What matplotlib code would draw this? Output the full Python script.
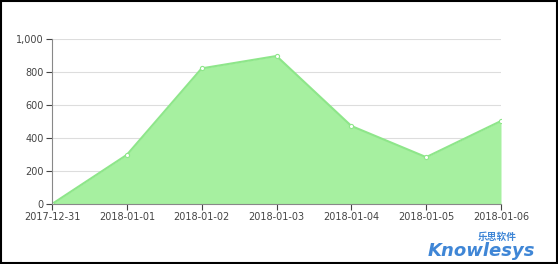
import matplotlib
matplotlib.use("agg")
import matplotlib.pyplot as plt
from matplotlib.patches import Rectangle

dates = ["2017-12-31", "2018-01-01", "2018-01-02", "2018-01-03",
         "2018-01-04", "2018-01-05", "2018-01-06"]
values = [0, 298, 822, 897, 473, 284, 503]
y_ticks = [0, 200, 400, 600, 800, 1000]
y_labels = ["0", "200", "400", "600", "800", "1,000"]

fig = plt.figure(figsize=(5.58, 2.64), dpi=100)
ax = fig.add_axes([52 / 558, 1 - 204 / 264, 449 / 558, 165 / 264])

x = list(range(len(dates)))
ax.fill_between(x, values, 0, color="#a6f0a0", lw=0)
ax.plot(x, values, color="#8ee68a", lw=1.5, marker="o", ms=3,
        mfc="white", mec="#8ee68a", mew=0.8)

ax.set_xlim(0, len(dates) - 1)
ax.set_ylim(0, 1000)
ax.set_xticks(x)
ax.set_xticklabels(dates)
ax.set_yticks(y_ticks)
ax.set_yticklabels(y_labels)
ax.yaxis.grid(True, color="#dddddd", lw=0.8)
ax.set_axisbelow(True)
ax.tick_params(labelsize=7, colors="#444444", length=4, width=0.8, pad=2)
for s in ("top", "right"):
    ax.spines[s].set_visible(False)
for s in ("left", "bottom"):
    ax.spines[s].set_color("#888888")
    ax.spines[s].set_linewidth(0.8)

# watermark
fig.text(428 / 558, 1 - 256 / 264, "Knowlesys", fontsize=13, fontweight="bold",
         style="italic", color="#3f86d6", family="DejaVu Sans")
fig.text(497 / 558, 1 - 240 / 264, "乐思软件", fontsize=7, fontweight="bold",
         color="#3f86d6", family=["Noto Sans CJK SC", "DejaVu Sans"], ha="center")

fig.patches.append(Rectangle((0.002, 0.004), 0.996, 0.992, transform=fig.transFigure,
                             fill=False, ec="black", lw=1.5))
fig.savefig("out.png", dpi=100)
